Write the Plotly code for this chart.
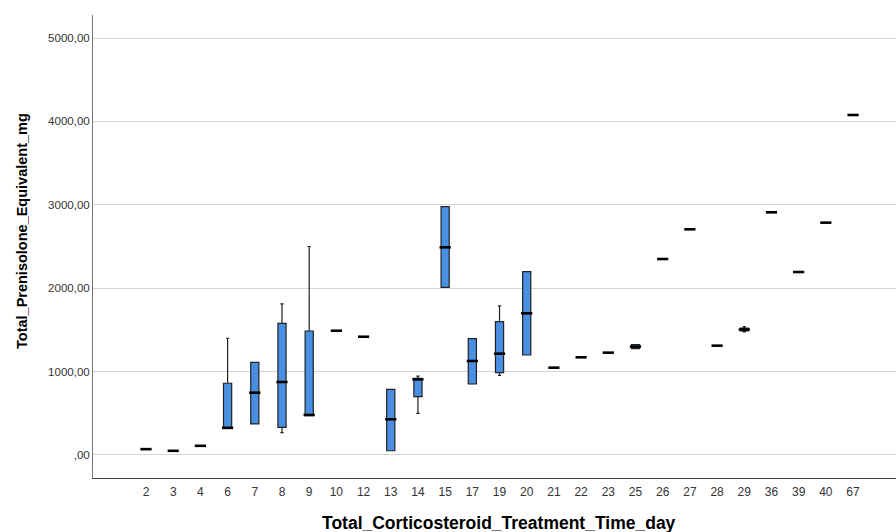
import plotly.graph_objects as go

# ---- data ----
days = ["2", "3", "4", "6", "7", "8", "9", "10", "12", "13", "14", "15", "17", "19",
        "20", "21", "22", "23", "25", "26", "27", "28", "29", "36", "39", "40", "67"]
q1_vals = [70, 50, 110, 320, 372, 332, 472, 1490, 1418, 51, 699, 2010, 851, 987,
           1199, 1047, 1171, 1227, 1275, 2350, 2706, 1311, 1488, 2910, 2194, 2786, 4077]
median_vals = [70, 50, 110, 325, 747, 875, 480, 1490, 1418, 428, 907, 2490, 1127, 1215,
               1699, 1047, 1171, 1227, 1300, 2350, 2706, 1311, 1505, 2910, 2194, 2786, 4077]
q3_vals = [70, 50, 110, 860, 1111, 1579, 1487, 1490, 1418, 787, 920, 2977, 1395, 1598,
           2198, 1047, 1171, 1227, 1325, 2350, 2706, 1311, 1522, 2910, 2194, 2786, 4077]
low_vals = [70, 50, 110, 320, 372, 267, 472, 1490, 1418, 51, 500, 2010, 851, 955,
            1199, 1047, 1171, 1227, 1275, 2350, 2706, 1311, 1475, 2910, 2194, 2786, 4077]
high_vals = [70, 50, 110, 1400, 1111, 1811, 2500, 1490, 1418, 787, 945, 2977, 1395, 1787,
             2198, 1047, 1171, 1227, 1325, 2350, 2706, 1311, 1540, 2910, 2194, 2786, 4077]

y_tick_vals = [0, 1000, 2000, 3000, 4000, 5000]
y_tick_text = [",00", "1000,00", "2000,00", "3000,00", "4000,00", "5000,00"]

x_title = "Total_Corticosteroid_Treatment_Time_day"
y_title = "Total_Prenisolone_Equivalent_mg"

FONT = "Liberation Sans, Arial, sans-serif"

fig = go.Figure()
fig.add_trace(go.Box(
    x=days, q1=q1_vals, median=median_vals, q3=q3_vals,
    lowerfence=low_vals, upperfence=high_vals,
    fillcolor="rgb(74,144,226)",
    line=dict(color="#222222", width=1.2),
    whiskerwidth=0.4, width=0.3, boxpoints=False,
    showlegend=False, hoverinfo="skip",
))
# thick SPSS-style median marks
fig.add_trace(go.Scatter(
    x=days, y=median_vals, mode="markers",
    marker=dict(symbol="line-ew", size=8, line=dict(width=2.6, color="black")),
    showlegend=False, hoverinfo="skip",
))

fig.update_layout(
    width=896, height=532,
    margin=dict(l=93, r=0, t=15, b=54),
    plot_bgcolor="white", paper_bgcolor="white",
    font=dict(family=FONT, color="#222"),
    xaxis=dict(
        type="category", categoryorder="array", categoryarray=days,
        range=[-1.95, 27.58],
        showline=True, linecolor="#444", linewidth=1,
        showgrid=False, ticks="", ticklen=0, ticklabelstandoff=3,
        tickfont=dict(size=12, color="#333"),
    ),
    yaxis=dict(
        range=[-276, 5276],
        tickvals=y_tick_vals, ticktext=y_tick_text,
        showline=True, linecolor="#777", linewidth=1,
        showgrid=True, gridcolor="#d3d3d3", gridwidth=1,
        zeroline=False, ticks="",
        tickfont=dict(size=11.5, color="#333"),
    ),
    annotations=[
        dict(text=x_title, xref="paper", yref="paper", x=0.5, y=0,
             xanchor="center", yanchor="middle", xshift=4, yshift=-45,
             showarrow=False,
             font=dict(size=17.5, color="black", family=FONT, weight="bold")),
        dict(text=y_title, xref="paper", yref="y", x=0, y=2686,
             xanchor="center", yanchor="middle", xshift=-71, textangle=-90,
             showarrow=False,
             font=dict(size=14.5, color="black", family=FONT, weight="bold")),
    ],
)

fig.write_html("out.html", config={"displayModeBar": False},
               post_script="document.body.style.margin='0';")
